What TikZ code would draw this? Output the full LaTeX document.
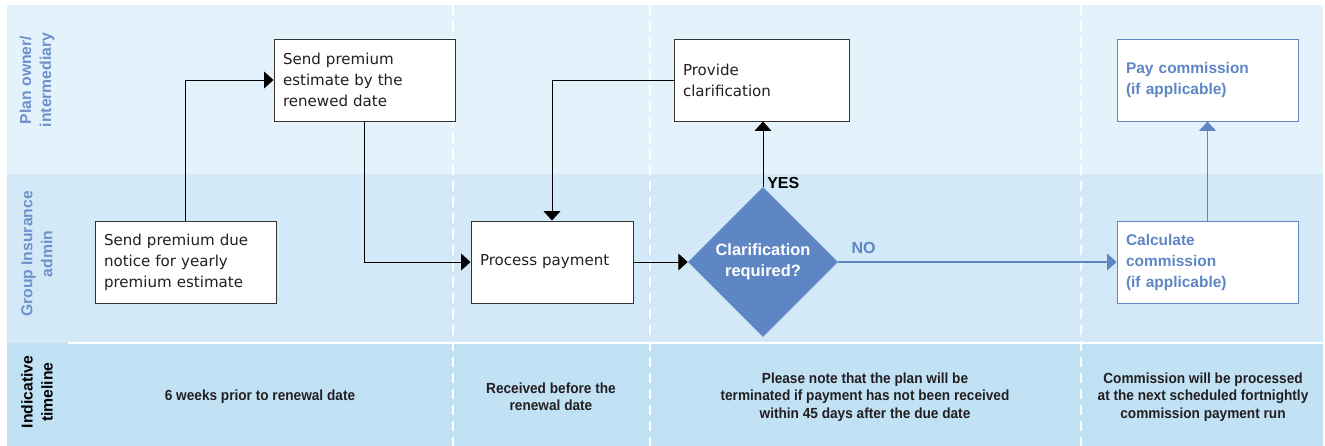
\documentclass[tikz,border=0pt]{standalone}
\usepackage{fontspec}
\setmainfont{DejaVu Sans}
\newfontfamily\headfont{Liberation Sans}
\newfontfamily\narrowfont{Liberation Sans}[FakeStretch=0.93]
\usetikzlibrary{shapes.geometric,arrows.meta}
\definecolor{lanecol1}{HTML}{E4F2FB}
\definecolor{lanecol2}{HTML}{D4E9F7}
\definecolor{lanecol3}{HTML}{C1E1F5}
\definecolor{bluecol}{HTML}{5E86C5}
\definecolor{headcol}{HTML}{6E91CC}
\definecolor{textcol}{HTML}{231F20}
\definecolor{linecol}{HTML}{333333}
\tikzset{
  stepbox/.style={draw=linecol,line width=0.75pt,fill=white,minimum height=61.5pt,
    inner xsep=6.75pt,align=left,text=textcol,font=\fontsize{11.3}{15.75}\selectfont},
  bluebox/.style={stepbox,draw=bluecol,text=bluecol,
    font=\headfont\bfseries\fontsize{11.6}{15.75}\selectfont},
  lanehead/.style={rotate=90,align=center,text=headcol,
    font=\headfont\bfseries\fontsize{11.8}{15}\selectfont},
  timetext/.style={align=center,text=textcol,
    font=\narrowfont\bfseries\fontsize{11}{13.1}\selectfont},
  flow/.style={draw=black,line width=0.75pt,-{Triangle[length=7pt,width=12.5pt]}},
  blueflow/.style={flow,draw=bluecol,fill=bluecol,line width=1pt}
}
\begin{document}
\begin{tikzpicture}[x=0.75pt,y=-0.75pt]
\useasboundingbox (0,0) rectangle (1325,446);
\foreach \col/\ya/\yb in {lanecol1/5/174, lanecol2/174/343, lanecol3/343/446}{
  \fill[\col] (7,\ya) rectangle (1323,\yb);
  }
\draw[white,line width=1.5pt] (68,343) -- (1323,343);
\foreach \x in {453,650,1081}{
  \draw[white,line width=1.5pt,dash pattern=on 7.5pt off 4.5pt] (\x,5) -- (\x,446);
  }

\node[lanehead] (hplan) at (37,80) {Plan owner/\\intermediary};
\node[lanehead] (hadmin) at (37,254) {Group Insurance\\admin};
\node[lanehead,text=black] (htime) at (37,392) {Indicative\\timeline};

\node[stepbox,text width=122.25pt] (notice) at (185.5,262) {Send premium due\\notice for yearly\\premium estimate};
\node[stepbox,text width=122.25pt] (estimate) at (364.5,80) {Send premium\\estimate by the\\renewed date};
\node[stepbox,text width=108pt] (payment) at (552,262) {Process payment};
\node[stepbox,text width=117.75pt] (clarify) at (761.5,80) {Provide\\clarification};
\node[diamond,fill=bluecol,minimum width=112.5pt,minimum height=112.5pt,inner sep=0pt,
  align=center,text=white,font=\headfont\bfseries\fontsize{12.3}{16}\selectfont] (question) at (763,262) {Clarification\\required?};
\node[bluebox,text width=122.25pt] (paycomm) at (1207.5,80) {Pay commission\\(if applicable)};
\node[bluebox,text width=122.25pt] (calccomm) at (1207.5,262) {Calculate\\commission\\(if applicable)};

\node[anchor=west,inner sep=0pt,font=\headfont\bfseries\fontsize{12}{14}\selectfont] (yes) at ([xshift=3pt,yshift=3pt]question.north) {YES};
\node[anchor=south west,inner sep=0pt,text=bluecol,font=\headfont\bfseries\fontsize{12}{14}\selectfont] (no) at ([xshift=9.75pt,yshift=6pt]question.east) {NO};

\draw[flow] (notice.north) |- (estimate.west);
\draw[flow] (estimate.south) |- (payment.west);
\draw[flow] (payment.east) -- (question.west);
\draw[flow] (question.north) -- (question.north |- clarify.south);
\draw[flow] (clarify.west) -| (payment.north);
\draw[blueflow] (question.east) -- (calccomm.west);
\draw[blueflow] (calccomm.north) -- (paycomm.south);

\node[timetext] (t1) at (260,397) {6 weeks prior to renewal date};
\node[timetext] (t2) at (551,397) {Received before the\\renewal date};
\node[timetext] (t3) at (865,397) {Please note that the plan will be\\terminated if payment has not been received\\within 45 days after the due date};
\node[timetext] (t4) at (1203,397) {Commission will be processed\\at the next scheduled fortnightly\\commission payment run};
\end{tikzpicture}
\end{document}
